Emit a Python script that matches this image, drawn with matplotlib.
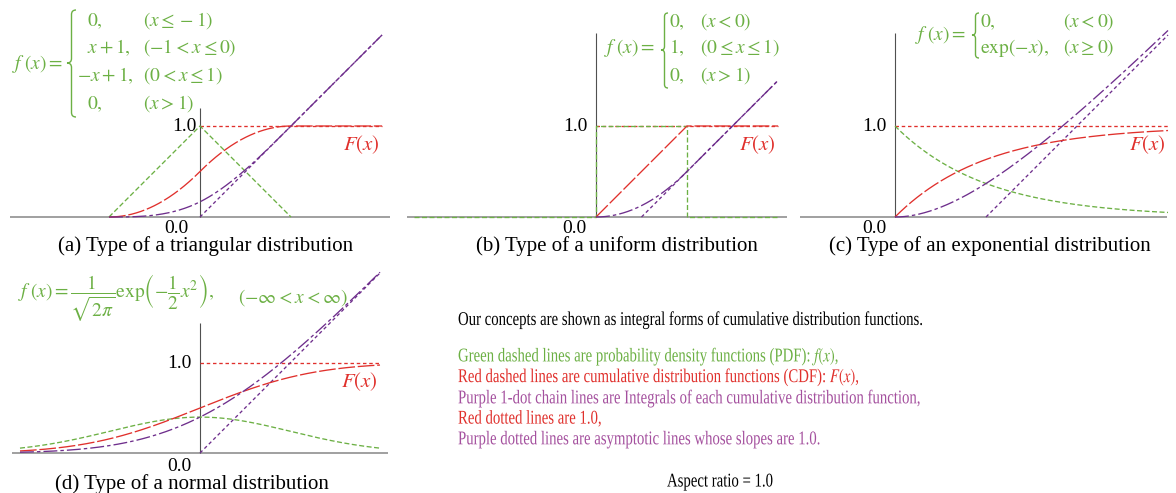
import math
import numpy as np
import matplotlib
matplotlib.use("Agg")
import matplotlib.pyplot as plt
from matplotlib import patheffects
from matplotlib.path import Path
from matplotlib.patches import PathPatch
from matplotlib.transforms import Affine2D

plt.rcParams['font.family'] = ['Liberation Serif', 'DejaVu Serif']
plt.rcParams['mathtext.fontset'] = 'stix'
plt.rcParams['lines.scale_dashes'] = False

# ---- data: the distributions printed on the chart ----
captions = ["(a) Type of a triangular distribution",
            "(b) Type of a uniform distribution",
            "(c) Type of an exponential distribution",
            "(d) Type of a normal distribution"]
# pdf corner points of the piecewise-linear densities
tri_x = [-1, 0, 1]
tri_f = [0, 1, 0]
uni_x = [-2, 0, 0, 1, 1, 2]
uni_f = [0, 0, 1, 1, 0, 0]
# plotted x-range of the curves for each panel
curve_range = [(-1, 2), (0, 2), (0, 3), (-2, 2)]
# mean of each distribution = offset of the slope-1 asymptote
means = [0.0, 0.5, 1.0, 0.0]

legend_lines = ["Green dashed lines are probability density functions (PDF): $f(x)$,",
                "Red dashed lines are cumulative distribution functions (CDF): $F(x)$,",
                "Purple 1-dot chain lines are Integrals of each cumulative distribution function,",
                "Red dotted lines are 1.0,",
                "Purple dotted lines are asymptotic lines whose slopes are 1.0."]

GREEN = '#6cb044'
RED = '#e0302c'
PURPLE = '#6e2e8c'
PURPLE_TXT = '#a4509e'
legend_colors = [GREEN, RED, PURPLE_TXT, RED, PURPLE_TXT]

LS_PDF = (0, (3.6, 1.8))
LS_CDF = (0, (12, 2))
LS_INT = (0, (10, 2.2, 2.5, 2.2))
LS_DOT = (0, (2.5, 2))
LW = 0.95

W, H = 1176, 493
fig = plt.figure(figsize=(W / 100, H / 100), dpi=100)


class Squeeze(patheffects.AbstractPathEffect):
    # narrow the glyphs horizontally (the original uses a condensed Times)
    def __init__(self, sx):
        super().__init__()
        self.sx = sx

    def draw_path(self, renderer, gc, tpath, affine, rgbFace=None):
        renderer.draw_path(gc, tpath, Affine2D().scale(self.sx, 1) + affine, rgbFace)


def ftext(px, py, s, **kw):
    return fig.text(px / W, 1 - py / H, s, **kw)


def add_panel(origin, unit, xlim, ylim):
    ox, oy = origin
    left = ox + xlim[0] * unit
    right = ox + xlim[1] * unit
    top = oy - ylim[1] * unit
    bottom = oy - ylim[0] * unit
    ax = fig.add_axes([left / W, 1 - bottom / H, (right - left) / W, (bottom - top) / H])
    ax.set_xlim(xlim)
    ax.set_ylim(ylim)
    ax.axis('off')
    return ax


def brace(x0, y_top, y_bot, w, y_mid=None, color=GREEN):
    # opening curly brace drawn in figure pixels
    if y_mid is None:
        y_mid = (y_top + y_bot) / 2
    xm = x0 + w / 2
    xr = x0 + w
    r = w / 2
    pts = [(xr, y_top), (xm, y_top), (xm, y_top + r), (xm, y_mid - r),
           (xm, y_mid), (x0, y_mid), (xm, y_mid), (xm, y_mid + r),
           (xm, y_bot - r), (xm, y_bot), (xr, y_bot)]
    codes = [Path.MOVETO, Path.CURVE3, Path.CURVE3, Path.LINETO,
             Path.CURVE3, Path.CURVE3, Path.CURVE3, Path.CURVE3,
             Path.LINETO, Path.CURVE3, Path.CURVE3]
    verts = [(x / W, 1 - y / H) for x, y in pts]
    fig.add_artist(PathPatch(Path(verts, codes), fc='none', ec=color, lw=1.0,
                             transform=fig.transFigure))


def draw_axes(ax, hx, vtop, one_x, zero_xy):
    ax.hlines(0, hx[0], hx[1], color='#a0a0a0', lw=1.4, zorder=1)
    ax.vlines(0, 0, vtop, color='#505050', lw=0.8, zorder=1)
    ax.text(one_x, 1.0, '1.0', ha='right', va='center', fontsize=14, clip_on=False)
    ax.text(zero_xy[0], zero_xy[1], '0.0', ha='right', va='baseline', fontsize=14, clip_on=False)


def draw_curves(ax, x, pdf_x, pdf_y, cdf, integ, mean, xr):
    ax.plot([0, xr[1]], [1, 1], color=RED, lw=LW, ls=LS_DOT, zorder=2)
    ax.plot([mean, xr[1]], [0, xr[1] - mean], color=PURPLE, lw=LW, ls=LS_DOT, zorder=2)
    ax.plot(pdf_x, pdf_y, color=GREEN, lw=LW, ls=LS_PDF, zorder=3)
    ax.plot(x, cdf, color=RED, lw=LW, ls=LS_CDF, zorder=3)
    ax.plot(x, integ, color=PURPLE, lw=LW, ls=LS_INT, zorder=4)
    ax.text(xr[1] - 0.02, 0.79, '$F(x)$', color=RED, ha='right', va='center', fontsize=15)


# (a) triangular
ax = add_panel((200, 217), 91, (-2.2, 2.2), (-0.3, 2.2))
draw_axes(ax, (-2.09, 2.09), 1.2, -0.04, (-0.13, -0.18))
xa = np.linspace(*curve_range[0], 601)
Fa = np.where(xa < 0, (xa + 1) ** 2 / 2, np.where(xa < 1, 1 - (1 - xa) ** 2 / 2, 1.0))
Ia = np.where(xa < 0, (xa + 1) ** 3 / 6, np.where(xa < 1, xa + (1 - xa) ** 3 / 6, xa))
draw_curves(ax, xa, tri_x, tri_f, Fa, Ia, means[0], curve_range[0])

# (b) uniform
ax = add_panel((596, 217), 91, (-2.2, 2.2), (-0.3, 2.2))
draw_axes(ax, (-2.08, 2.1), 2.02, -0.09, (-0.1, -0.18))
xb = np.linspace(*curve_range[1], 601)
Fb = np.clip(xb, 0, 1)
Ib = np.where(xb < 1, xb ** 2 / 2, xb - 0.5)
draw_curves(ax, xb, uni_x, uni_f, Fb, Ib, means[1], curve_range[1])

# (c) exponential
ax = add_panel((895, 217), 91, (-1.1, 3.1), (-0.3, 2.2))
draw_axes(ax, (-1.04, 2.99), 2.02, -0.09, (-0.09, -0.18))
xc = np.linspace(*curve_range[2], 601)
fc = np.exp(-xc)
Fc = 1 - np.exp(-xc)
Ic = xc - 1 + np.exp(-xc)
draw_curves(ax, xc, xc, fc, Fc, Ic, means[2], curve_range[2])

# (d) normal
ax = add_panel((200, 453), 90, (-2.2, 2.2), (-0.3, 2.1))
draw_axes(ax, (-2.09, 2.09), 1.45, -0.09, (-0.09, -0.2))
xd = np.linspace(*curve_range[3], 601)
fd = np.exp(-xd ** 2 / 2) / math.sqrt(2 * math.pi)
Fd = np.array([0.5 * (1 + math.erf(v / math.sqrt(2))) for v in xd])
Id = xd * Fd + fd
draw_curves(ax, xd, xd, fd, Fd, Id, means[3], curve_range[3])

# captions
for (cx, cy), cap in zip([(206, 251), (617, 251), (990, 251), (192, 489)], captions):
    ftext(cx, cy, cap, ha='center', va='baseline', fontsize=15)

# equations
EQ = dict(color=GREEN, fontsize=14, va='center', ha='left')
ftext(12, 64, r'$f\;(x)=$', **EQ)
brace(67, 10, 117, 9, 63)
for px, py, s in [(87, 21, '$0,$'), (87, 48, r'$x+1,$'), (77, 76, r'$-x+1,$'), (87, 104, '$0,$')]:
    ftext(px, py, s, **EQ)
for py, s in [(21, r'$(x\leq -1)$'), (48, r'$(-1<x\leq 0)$'),
              (76, r'$(0<x\leq 1)$'), (104, r'$(x>1)$')]:
    ftext(143, py, s, **EQ)

ftext(604, 48, r'$f\;(x)=$', **EQ)
brace(661, 13, 88, 7, 50)
for py, s in [(22, '$0,$'), (48, '$1,$'), (76, '$0,$')]:
    ftext(669, py, s, **EQ)
for py, s in [(22, r'$(x<0)$'), (48, r'$(0\leq x\leq 1)$'), (76, r'$(x>1)$')]:
    ftext(700, py, s, **EQ)

ftext(915, 35, r'$f\;(x)=$', **EQ)
brace(972, 13, 58, 7, 35)
ftext(980, 22, '$0,$', **EQ)
ftext(980, 48, r'$\mathrm{exp}(-x),$', **EQ)
ftext(1063, 22, r'$(x<0)$', **EQ)
ftext(1063, 48, r'$(x\geq 0)$', **EQ)

ftext(18, 298, r'$f\;(x)=\dfrac{1}{\sqrt{2\pi}}\mathrm{exp}\left(-\dfrac{1}{2}x^2\right),$', **EQ)
ftext(238, 298, r'$(-\infty<x<\infty)$', **EQ)

# explanation block
sq = [Squeeze(0.76)]
ftext(458, 320, "Our concepts are shown as integral forms of cumulative distribution functions.",
      fontsize=14, va='center', path_effects=sq)
for i, (line, col) in enumerate(zip(legend_lines, legend_colors)):
    ftext(458, 357 + 20.7 * i, line, color=col, fontsize=14, va='center', path_effects=sq)
ftext(667, 482, "Aspect ratio = 1.0", fontsize=14, va='center', path_effects=sq)

fig.savefig("out.png", dpi=100)
